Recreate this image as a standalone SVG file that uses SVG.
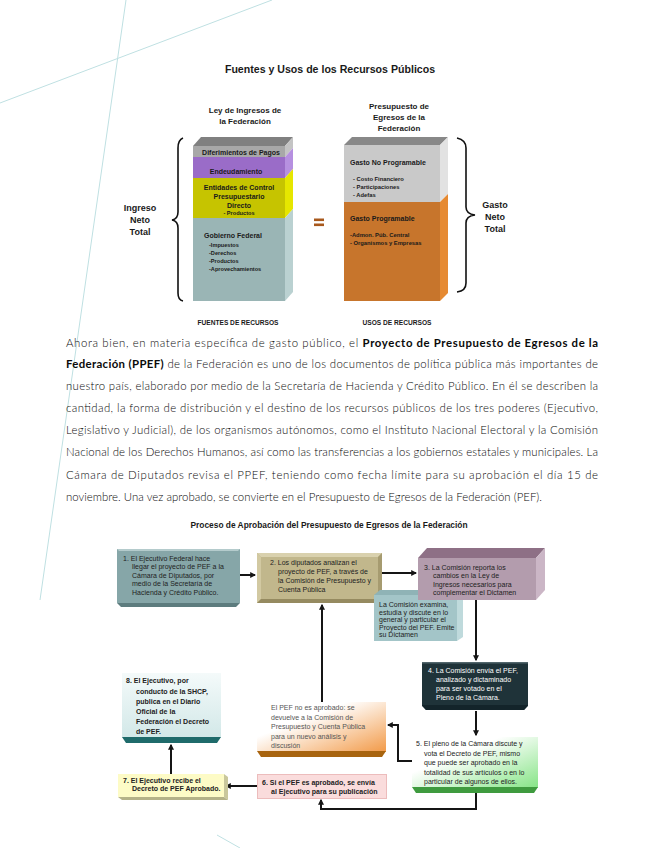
<svg xmlns="http://www.w3.org/2000/svg" width="655" height="848" viewBox="0 0 655 848">
<defs>
<style>
.t{font-family:"Liberation Sans",Arial,sans-serif;fill:#1a1a1a}
.b{font-weight:bold}
.p{font-family:Lato,"Open Sans",sans-serif;font-size:11.4px;font-weight:300;fill:#0a0a0a}
.pb{font-weight:bold}
.bx{font-family:"Liberation Sans",Arial,sans-serif;font-size:7px;fill:#222}
.bg{stroke:#bfe0e2;stroke-width:1;fill:none}
.con{fill:none;stroke:#151515;stroke-width:2}
.brace{fill:none;stroke:#111;stroke-width:1.6}
.w{fill:#ffffff}
.gr{fill:#555555}
</style>
<marker id="ah" viewBox="0 0 10 10" refX="8" refY="5" markerWidth="6" markerHeight="6" orient="auto" markerUnits="userSpaceOnUse">
<path d="M0,0 L10,5 L0,10 z" fill="#151515"/>
</marker>
<linearGradient id="g5" x1="0" y1="0" x2="1" y2="1">
<stop offset="0.35" stop-color="#ffffff"/><stop offset="1" stop-color="#86e486"/>
</linearGradient>
<linearGradient id="gno" x1="0" y1="0" x2="1" y2="1">
<stop offset="0.35" stop-color="#ffffff"/><stop offset="1" stop-color="#f29a48"/>
</linearGradient>
<linearGradient id="g8" x1="0" y1="0" x2="0" y2="1">
<stop offset="0" stop-color="#f4fafa"/><stop offset="1" stop-color="#d2e8e8"/>
</linearGradient>
</defs>

<rect width="655" height="848" fill="#ffffff"/>
<g id="background-lines">
<path class="bg" d="M0,103 L272,0"/>
<path class="bg" d="M126,0 L40,600"/>
<path class="bg" d="M217,835 L240,848"/>
</g>

<text class="t b" x="330" y="73" font-size="10.6" text-anchor="middle">Fuentes y Usos de los Recursos Públicos</text>

<g id="left-stack">
<text class="t b" x="245" y="113" font-size="8" text-anchor="middle">Ley de Ingresos de</text>
<text class="t b" x="245" y="124" font-size="8" text-anchor="middle">la Federación</text>
<polygon points="193,146 201,137 293,137 285,146" fill="#808080"/>
<rect x="193" y="146" width="92" height="11" fill="#a8a8a8"/>
<rect x="193" y="157" width="92" height="21" fill="#9a6cc8"/>
<rect x="193" y="178" width="92" height="40" fill="#c6c400"/>
<rect x="193" y="218" width="92" height="83" fill="#9ab5b5"/>
<polygon points="285,146 293,137 293,148 285,157" fill="#c4c4c4"/>
<polygon points="285,157 293,148 293,169 285,178" fill="#b690e0"/>
<polygon points="285,178 293,169 293,209 285,218" fill="#e6e600"/>
<polygon points="285,218 293,209 293,292 285,301" fill="#bad1d1"/>
<text class="t b" x="241" y="155" font-size="7" text-anchor="middle">Diferimientos de Pagos</text>
<text class="t b" x="236" y="174" font-size="7" text-anchor="middle">Endeudamiento</text>
<text class="t b" x="239" y="190" font-size="7" text-anchor="middle">Entidades de Control</text>
<text class="t b" x="239" y="199" font-size="7" text-anchor="middle">Presupuestario</text>
<text class="t b" x="239" y="208" font-size="7" text-anchor="middle">Directo</text>
<text class="t b" x="239" y="215" font-size="5.6" text-anchor="middle">- Productos</text>
<text class="t b" x="204" y="238" font-size="7">Gobierno Federal</text>
<text class="t b" x="209" y="247" font-size="5.6">-Impuestos</text>
<text class="t b" x="209" y="255" font-size="5.6">-Derechos</text>
<text class="t b" x="209" y="263" font-size="5.6">-Productos</text>
<text class="t b" x="209" y="271" font-size="5.6">-Aprovechamientos</text>
<text class="t b" x="238" y="325" font-size="6.6" text-anchor="middle">FUENTES DE RECURSOS</text>
</g>

<g id="ingreso-neto">
<path class="brace" d="M183,138 Q178,140 178,148 L178,212 Q178,219 172,220 Q178,221 178,228 L178,293 Q178,300 183,301"/>
<text class="t b" x="140" y="211" font-size="9" text-anchor="middle">Ingreso</text>
<text class="t b" x="140" y="223" font-size="9" text-anchor="middle">Neto</text>
<text class="t b" x="140" y="235" font-size="9" text-anchor="middle">Total</text>
</g>

<g id="equals">
<rect x="314" y="218.5" width="10" height="2.6" fill="#a8581c"/>
<rect x="314" y="223.5" width="10" height="2.6" fill="#a8581c"/>
</g>

<g id="right-stack">
<text class="t b" x="399" y="109" font-size="8" text-anchor="middle">Presupuesto de</text>
<text class="t b" x="399" y="120" font-size="8" text-anchor="middle">Egresos de la</text>
<text class="t b" x="399" y="131" font-size="8" text-anchor="middle">Federación</text>
<polygon points="344,145 352,137 448,137 440,145" fill="#888888"/>
<rect x="344" y="145" width="96" height="57" fill="#c9c9c9"/>
<rect x="344" y="202" width="96" height="99" fill="#c7752c"/>
<polygon points="440,145 448,137 448,194 440,202" fill="#e2e2e2"/>
<polygon points="440,202 448,194 448,293 440,301" fill="#e68a32"/>
<text class="t b" x="350" y="165" font-size="7">Gasto No Programable</text>
<text class="t b" x="353" y="181" font-size="5.8">- Costo Financiero</text>
<text class="t b" x="353" y="189" font-size="5.8">- Participaciones</text>
<text class="t b" x="353" y="197" font-size="5.8">- Adefas</text>
<text class="t b" x="350" y="221" font-size="7">Gasto Programable</text>
<text class="t b" x="350" y="237" font-size="5.8">-Admon. Púb. Central</text>
<text class="t b" x="350" y="245" font-size="5.8">- Organismos y Empresas</text>
<text class="t b" x="397" y="325" font-size="6.6" text-anchor="middle">USOS DE RECURSOS</text>
</g>

<g id="gasto-neto">
<path class="brace" d="M457,138 Q466,140 466,148 L466,207 Q466,214 475,215 Q466,216 466,223 L466,283 Q466,291 457,292"/>
<text class="t b" x="495" y="208" font-size="9" text-anchor="middle">Gasto</text>
<text class="t b" x="495" y="220" font-size="9" text-anchor="middle">Neto</text>
<text class="t b" x="495" y="232" font-size="9" text-anchor="middle">Total</text>
</g>

<g id="paragraph">
<text class="p" x="66" y="347" textLength="532" lengthAdjust="spacing">Ahora bien, en materia específica de gasto público, el <tspan class="pb">Proyecto de Presupuesto de Egresos de la</tspan></text>
<text class="p" x="66" y="368" textLength="532" lengthAdjust="spacing"><tspan class="pb">Federación (PPEF)</tspan> de la Federación es uno de los documentos de política pública más importantes de</text>
<text class="p" x="66" y="390" textLength="532" lengthAdjust="spacing">nuestro país, elaborado por medio de la Secretaría de Hacienda y Crédito Público. En él se describen la</text>
<text class="p" x="66" y="412" textLength="532" lengthAdjust="spacing">cantidad, la forma de distribución y el destino de los recursos públicos de los tres poderes (Ejecutivo,</text>
<text class="p" x="66" y="434" textLength="532" lengthAdjust="spacing">Legislativo y Judicial), de los organismos autónomos, como el Instituto Nacional Electoral y la Comisión</text>
<text class="p" x="66" y="456" textLength="532" lengthAdjust="spacing">Nacional de los Derechos Humanos, así como las transferencias a los gobiernos estatales y municipales. La</text>
<text class="p" x="66" y="479" textLength="532" lengthAdjust="spacing">Cámara de Diputados revisa el PPEF, teniendo como fecha límite para su aprobación el día 15 de</text>
<text class="p" x="66" y="501" textLength="476" lengthAdjust="spacing">noviembre. Una vez aprobado, se convierte en el Presupuesto de Egresos de la Federación (PEF).</text>
</g>

<text class="t b" x="329" y="528" font-size="8.4" text-anchor="middle">Proceso de Aprobación del Presupuesto de Egresos de la Federación</text>

<g id="connectors">
<path class="con" d="M240,575 H255" marker-end="url(#ah)"/>
<path class="con" d="M382,573 H416" marker-end="url(#ah)"/>
<path class="con" d="M322,702 V605" marker-end="url(#ah)"/>
<path class="con" d="M476,600 V660" marker-end="url(#ah)"/>
<path class="con" d="M476,711 V735" marker-end="url(#ah)"/>
<path class="con" d="M412,761 H398 V725 H388" marker-end="url(#ah)"/>
<path class="con" d="M476,793 V809 H321 V800" marker-end="url(#ah)"/>
<path class="con" d="M257,786 H226" marker-end="url(#ah)"/>
<path class="con" d="M171,774 V745" marker-end="url(#ah)"/>
</g>

<g id="n1">
<rect x="117" y="549" width="123" height="54" fill="#86a6a8"/>
<polygon points="117,549 240,549 238,551 119,551" fill="#b4cbcc"/>
<polygon points="117,603 240,603 236,607 121,607" fill="#5d7c7e"/>
<text class="bx" x="123" y="560.5">1. El Ejecutivo Federal hace</text>
<text class="bx" x="132" y="569">llegar el proyecto de PEF a la</text>
<text class="bx" x="132" y="577.5">Cámara de Diputados, por</text>
<text class="bx" x="132" y="586">medio de la Secretaría de</text>
<text class="bx" x="132" y="594.5">Hacienda y Crédito Público.</text>
</g>

<g id="n2">
<rect x="257" y="553" width="125" height="50" fill="#c1b78c"/>
<polygon points="257,553 382,553 378,557 261,557" fill="#d9d1ae"/>
<polygon points="257,553 261,557 261,599 257,603" fill="#d2c9a2"/>
<polygon points="382,553 382,603 378,599 378,557" fill="#a69b70"/>
<polygon points="257,603 382,603 378,599 261,599" fill="#958a60"/>
<text class="bx" x="270" y="565">2. Los diputados analizan el</text>
<text class="bx" x="278" y="574">proyecto de PEF, a través de</text>
<text class="bx" x="278" y="583">la Comisión de Presupuesto y</text>
<text class="bx" x="278" y="592">Cuenta Pública</text>
</g>

<g id="n3b">
<polygon points="374,595 380,590 463,590 457,595" fill="#8fb3b6"/>
<rect x="374" y="595" width="83" height="46" fill="#a3c5c8"/>
<polygon points="457,595 463,590 463,637 457,641" fill="#bfdadc"/>
<text class="bx" x="379" y="607" font-size="5.4">La Comisión examina,</text>
<text class="bx" x="379" y="614.5" font-size="5.4">estudia y discute en lo</text>
<text class="bx" x="379" y="622" font-size="5.4">general y particular el</text>
<text class="bx" x="379" y="629.5" font-size="5.4">Proyecto del PEF. Emite</text>
<text class="bx" x="379" y="637" font-size="5.4">su Dictamen</text>
</g>

<g id="n3">
<polygon points="418,558 427,548 545,548 536,558" fill="#8e7086"/>
<rect x="418" y="558" width="118" height="42" fill="#b39cad"/>
<polygon points="536,558 545,548 545,590 536,600" fill="#cbb6c6"/>
<text class="bx" x="424" y="569.5" font-size="7.3">3. La Comisión reporta los</text>
<text class="bx" x="433" y="578" font-size="7.3">cambios en la Ley de</text>
<text class="bx" x="433" y="586.5" font-size="7.3">Ingresos necesarios para</text>
<text class="bx" x="433" y="595" font-size="7.3">complementar el Dictamen</text>
</g>

<g id="n4">
<polygon points="422,662 528,662 528,706 524,710 426,710 422,706" fill="#1f3339"/>
<rect x="422" y="662" width="106" height="1.5" fill="#52666c"/>
<polygon points="422,705 528,705 524,710 426,710" fill="#13242a"/>
<text class="bx w" x="428" y="672.5">4. La Comisión envía el PEF,</text>
<text class="bx w" x="436" y="681.5">analizado y dictaminado</text>
<text class="bx w" x="436" y="690.5">para ser votado en el</text>
<text class="bx w" x="436" y="699.5">Pleno de la Cámara.</text>
</g>

<g id="n5">
<rect x="412" y="737" width="126" height="51" fill="url(#g5)"/>
<polygon points="412,787 538,787 534,793 416,793" fill="#3f9b3f"/>
<text class="bx" x="416" y="746" font-size="7.1">5. El pleno de la Cámara discute y</text>
<text class="bx" x="424" y="755.5" font-size="7.1">vota el Decreto de PEF, mismo</text>
<text class="bx" x="424" y="765" font-size="7.1">que puede ser aprobado en la</text>
<text class="bx" x="424" y="774.5" font-size="7.1">totalidad de sus artículos o en lo</text>
<text class="bx" x="424" y="784" font-size="7.1">particular de algunos de ellos.</text>
</g>

<g id="n-no">
<rect x="257" y="702" width="129" height="50" fill="url(#gno)"/>
<polygon points="257,751 386,751 382,757 261,757" fill="#a8640f"/>
<text class="bx gr" x="271" y="710" font-size="7.1">El PEF no es aprobado: se</text>
<text class="bx gr" x="271" y="719.5" font-size="7.1">devuelve a la Comisión de</text>
<text class="bx gr" x="271" y="729" font-size="7.1">Presupuesto y Cuenta Pública</text>
<text class="bx gr" x="271" y="738.5" font-size="7.1">para un nuevo análisis y</text>
<text class="bx gr" x="271" y="748" font-size="7.1">discusión</text>
</g>

<g id="n6">
<rect x="257.5" y="774.5" width="129" height="24" fill="#fadcdc" stroke="#ecbcbc" stroke-width="1"/>
<text class="bx b" x="262" y="785">6. Si el PEF es aprobado, se envía</text>
<text class="bx b" x="271" y="794">al Ejecutivo para su publicación</text>
</g>

<g id="n7">
<rect x="118" y="774" width="106" height="23" fill="#fdfbc6"/>
<polygon points="224,774 228,777 228,800 224,797" fill="#c9c79c"/>
<polygon points="118,797 224,797 228,800 122,800" fill="#b4b288"/>
<text class="bx b" x="123" y="783">7. El Ejecutivo recibe el</text>
<text class="bx b" x="132" y="791">Decreto de PEF Aprobado.</text>
</g>

<g id="n8">
<rect x="122" y="673" width="99" height="65" fill="url(#g8)"/>
<polygon points="122,737 221,737 217,743 126,743" fill="#1f6b6b"/>
<text class="bx b" x="126" y="683" font-size="7.3">8. El Ejecutivo, por</text>
<text class="bx b" x="136" y="694" font-size="7.3">conducto de la SHCP,</text>
<text class="bx b" x="136" y="704" font-size="7.3">publica en el Diario</text>
<text class="bx b" x="136" y="714" font-size="7.3">Oficial de la</text>
<text class="bx b" x="136" y="724" font-size="7.3">Federación el Decreto</text>
<text class="bx b" x="136" y="734" font-size="7.3">de PEF.</text>
</g>
</svg>
